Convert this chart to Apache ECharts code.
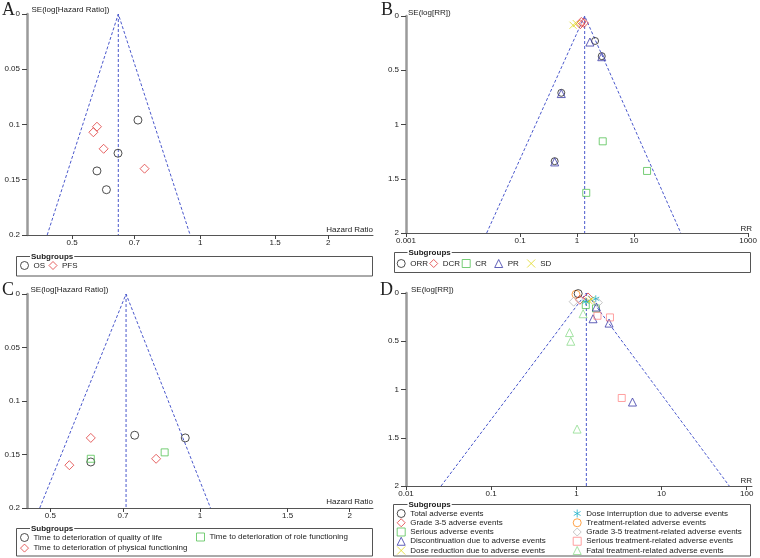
<!DOCTYPE html>
<html>
<head>
<meta charset="utf-8">
<script src="https://cdn.jsdelivr.net/npm/echarts@6/dist/echarts.min.js"></script>
<style>
html,body{margin:0;padding:0;background:#fff;}
#chart{width:760px;height:558px;}
</style>
</head>
<body>
<div id="chart"></div>
<script>
// ---------------- DATA ----------------
// Panel A : HR funnel (OS, PFS)
const aTicks = [0.5, 0.7, 1, 1.5, 2];
const aOS_HR = [0.714, 0.641, 0.572, 0.602];
const aOS_SE = [0.096, 0.126, 0.142, 0.159];
const aPFS_HR = [0.572, 0.561, 0.593, 0.740];
const aPFS_SE = [0.102, 0.107, 0.122, 0.140];
const aFunnel = [0.437, 0.642, 0.947];      // lower limit at max SE, pooled, upper limit
const aSEmax = 0.2;

// Panel B : RR funnel (response)
const bTicks = [0.001, 0.1, 1, 10, 1000];
const bORR_RR = [2.07, 2.71, 0.529, 0.405];
const bORR_SE = [0.23, 0.37, 0.708, 1.338];
const bDCR_RR = [1.19, 1.32, 1.14];
const bDCR_SE = [0.055, 0.064, 0.076];
const bCR_RR = [2.82, 16.9, 1.45];
const bCR_SE = [1.155, 1.428, 1.63];
const bPR_RR = [1.68, 2.71, 0.529, 0.405];
const bPR_SE = [0.24, 0.375, 0.715, 1.345];
const bSD_RR = [0.85, 0.97];
const bSD_SE = [0.085, 0.07];
const bFunnel = [0.026, 1.36, 66];
const bSEmax = 2;

// Panel C : HR funnel (quality of life)
const cTicks = [0.5, 0.7, 1, 1.5, 2];
const cQoL_HR = [0.739, 0.934, 0.603];
const cQoL_SE = [0.132, 0.1345, 0.157];
const cPhys_HR = [0.603, 0.546, 0.816];
const cPhys_SE = [0.1345, 0.160, 0.154];
const cRole_HR = [0.603, 0.849];
const cRole_SE = [0.154, 0.148];
const cFunnel = [0.476, 0.71, 1.05];
const cSEmax = 0.2;

// Panel D : RR funnel (adverse events)
const dTicks = [0.01, 0.1, 1, 10, 100];
const dTotal_RR = [1.05];
const dTotal_SE = [0.006];
const dG35_RR = [1.10, 1.37];
const dG35_SE = [0.07, 0.046];
const dSerious_RR = [1.29, 1.70];
const dSerious_SE = [0.125, 0.16];
const dDisc_RR = [1.57, 2.42, 4.56, 1.72];
const dDisc_SE = [0.267, 0.312, 1.13, 0.145];
const dRed_RR = [1.41, 1.51];
const dRed_SE = [0.08, 0.07];
const dInt_RR = [1.69, 1.29];
const dInt_SE = [0.06, 0.09];
const dTrae_RR = [0.99];
const dTrae_SE = [0.014];
const dG35T_RR = [0.93, 1.79];
const dG35T_SE = [0.09, 0.10];
const dSerT_RR = [1.77, 2.48, 3.41];
const dSerT_SE = [0.236, 0.253, 1.088];
const dFatal_RR = [1.20, 0.83, 0.86, 1.02];
const dFatal_SE = [0.215, 0.41, 0.50, 1.41];
const dFunnel = [0.0258, 1.31, 62.4];
const dSEmax = 2;

// ---------------- STYLE ----------------
const FONT = "'Liberation Sans', Arial, sans-serif";
const FS = 8;
const SERIF = "'Liberation Serif', 'Times New Roman', serif";
const C_BLACK = '#222222', C_RED = '#e03c3c', C_GREEN = '#55c255', C_BLUE = '#3a3aa8',
      C_YELLOW = '#e0d820', C_TEAL = '#20b0c8', C_ORANGE = '#ff8c1a', C_GRAY = '#b8b8b8',
      C_PINK = '#ff8a8a', C_LGREEN = '#8edc8e', C_FUNNEL = '#4a58cc';
const SYM_X = 'path://M0,0L10,10M10,0L0,10';
const SYM_AST = 'path://M5,0L5,10M0.7,2.5L9.3,7.5M0.7,7.5L9.3,2.5';

const L = Math.log10;
const eps = 1e-9;

function xAxisCfg(gi, min, max, ticks) {
  const cv = ticks.map(L);
  return {
    type: 'value', gridIndex: gi, min: min, max: max,
    axisLine: {onZero: false, lineStyle: {color: '#555', width: 1}},
    axisTick: {length: 4, customValues: cv, lineStyle: {color: '#444'}},
    axisLabel: {
      customValues: cv, margin: 4, fontSize: FS, color: '#222', fontFamily: FONT,
      formatter: function (v) {
        for (let i = 0; i < cv.length; i++) if (Math.abs(cv[i] - v) < 1e-6) return String(ticks[i]);
        return '';
      }
    },
    splitLine: {show: false}
  };
}
function yAxisCfg(gi, max, interval) {
  return {
    type: 'value', gridIndex: gi, inverse: true, min: 0, max: max, interval: interval,
    axisLine: {onZero: false, lineStyle: {color: '#9a9a9a', width: 2.5}},
    axisTick: {length: 5, lineStyle: {color: '#444'}},
    axisLabel: {margin: 7, fontSize: FS, color: '#222', fontFamily: FONT},
    splitLine: {show: false}
  };
}
function sc(name, xs, ys, gi, symbol, color, size) {
  return {
    type: 'scatter', name: name, xAxisIndex: gi, yAxisIndex: gi,
    data: xs.map((x, i) => [L(x), ys[i]]),
    symbol: symbol, symbolSize: size, z: 5,
    itemStyle: {color: 'rgba(0,0,0,0)', borderColor: color, borderWidth: 1},
    emphasis: {disabled: true}, silent: true
  };
}
function funnel(gi, f, seMax) {
  const ls = {color: C_FUNNEL, width: 1, type: [3, 2]};
  return [
    {type: 'line', xAxisIndex: gi, yAxisIndex: gi, symbol: 'none', silent: true, z: 2,
     data: [[L(f[0]), seMax], [L(f[1]), 0], [L(f[2]), seMax]], lineStyle: ls},
    {type: 'line', xAxisIndex: gi, yAxisIndex: gi, symbol: 'none', silent: true, z: 2,
     data: [[L(f[1]), 0], [L(f[1]), seMax]], lineStyle: ls}
  ];
}
function legendCfg(names, left, top, orient, opts) {
  return Object.assign({
    data: names, left: left, top: top, orient: orient, padding: 0, height: 70,
    itemWidth: 8, itemHeight: 8, itemGap: 0, selectedMode: false,
    itemStyle: {borderWidth: 1},
    textStyle: {fontSize: FS, color: '#222', fontFamily: FONT, lineHeight: 9}
  }, opts || {});
}
function boxGraphics(x, y, w, h, tx) {
  return [
    {type: 'rect', shape: {x: x, y: y, width: w, height: h}, silent: true,
     style: {fill: 'none', stroke: '#555', lineWidth: 1}},
    {type: 'text', x: tx, y: y, silent: true, z: 10,
     style: {text: 'Subgroups', font: 'bold ' + FS + 'px ' + FONT, fill: '#222',
             align: 'left', verticalAlign: 'middle', backgroundColor: '#fff', padding: [0, 1, 0, 1]}}
  ];
}
function txt(t, x, y, font, align) {
  return {type: 'text', x: x, y: y, silent: true, z: 10,
          style: {text: t, font: font, fill: '#222', align: align || 'left', verticalAlign: 'middle'}};
}

const aNames = ['OS', 'PFS'];
const bNames = ['ORR', 'DCR', 'CR', 'PR', 'SD'];
const cNames = ['Time to deterioration of quality of life', 'Time to deterioration of physical functioning',
                'Time to deterioration of role functioning'];
const dNames = ['Total adverse events', 'Grade 3-5 adverse events', 'Serious adverse events',
                'Discontinuation due to adverse events', 'Dose reduction due to adverse events',
                'Dose interruption due to adverse events', 'Treatment-related adverse events',
                'Grade 3-5 treatment-related adverse events', 'Serious treatment-related adverse events',
                'Fatal treatment-related adverse events'];

const series = [].concat(
  funnel(0, aFunnel, aSEmax), funnel(1, bFunnel, bSEmax), funnel(2, cFunnel, cSEmax), funnel(3, dFunnel, dSEmax),
  [
    sc(aNames[0], aOS_HR, aOS_SE, 0, 'circle', C_BLACK, 8),
    sc(aNames[1], aPFS_HR, aPFS_SE, 0, 'diamond', C_RED, 9),

    sc(bNames[0], bORR_RR, bORR_SE, 1, 'circle', C_BLACK, 7),
    sc(bNames[1], bDCR_RR, bDCR_SE, 1, 'diamond', C_RED, 9),
    sc(bNames[2], bCR_RR, bCR_SE, 1, 'rect', C_GREEN, 7),
    sc(bNames[3], bPR_RR, bPR_SE, 1, 'triangle', C_BLUE, 8),
    sc(bNames[4], bSD_RR, bSD_SE, 1, SYM_X, C_YELLOW, 7),

    sc(cNames[0], cQoL_HR, cQoL_SE, 2, 'circle', C_BLACK, 8),
    sc(cNames[1], cPhys_HR, cPhys_SE, 2, 'diamond', C_RED, 9),
    sc(cNames[2], cRole_HR, cRole_SE, 2, 'rect', C_GREEN, 7),

    sc(dNames[6], dTrae_RR, dTrae_SE, 3, 'circle', C_ORANGE, 8),
    sc(dNames[0], dTotal_RR, dTotal_SE, 3, 'circle', C_BLACK, 8),
    sc(dNames[1], dG35_RR, dG35_SE, 3, 'diamond', C_RED, 9),
    sc(dNames[2], dSerious_RR, dSerious_SE, 3, 'rect', C_GREEN, 7),
    sc(dNames[3], dDisc_RR, dDisc_SE, 3, 'triangle', C_BLUE, 8),
    sc(dNames[4], dRed_RR, dRed_SE, 3, SYM_X, C_YELLOW, 7),
    sc(dNames[5], dInt_RR, dInt_SE, 3, SYM_AST, C_TEAL, 7),
    sc(dNames[7], dG35T_RR, dG35T_SE, 3, 'diamond', C_GRAY, 9),
    sc(dNames[8], dSerT_RR, dSerT_SE, 3, 'rect', C_PINK, 7),
    sc(dNames[9], dFatal_RR, dFatal_SE, 3, 'triangle', C_LGREEN, 8)
  ]
);

const option = {
  animation: false,
  backgroundColor: '#fff',
  grid: [
    {left: 27, top: 14, width: 346, height: 221},
    {left: 406, top: 16, width: 346, height: 217},
    {left: 27, top: 294, width: 346, height: 214},
    {left: 406, top: 293, width: 346, height: 193}
  ],
  xAxis: [
    xAxisCfg(0, -0.407, 0.406, aTicks),
    xAxisCfg(1, -3 - eps, 3 + eps, bTicks),
    xAxisCfg(2, -0.348, 0.348, cTicks),
    xAxisCfg(3, -2 - eps, 2.062, dTicks)
  ],
  yAxis: [
    yAxisCfg(0, 0.2, 0.05), yAxisCfg(1, 2, 0.5), yAxisCfg(2, 0.2, 0.05), yAxisCfg(3, 2, 0.5)
  ],
  legend: [
    legendCfg(aNames, 20, 261, 'horizontal', {textStyle: {fontSize: FS, color: '#222', fontFamily: FONT, width: 15, lineHeight: 9}}),
    legendCfg(bNames, 396.7, 259, 'horizontal', {textStyle: {fontSize: FS, color: '#222', fontFamily: FONT, width: 19, lineHeight: 9}}),
    legendCfg([cNames[0], cNames[1]], 20, 533, 'vertical', {itemGap: 1.6}),
    legendCfg([cNames[2]], 196, 532.5, 'vertical'),
    legendCfg(dNames.slice(0, 5), 396.7, 509, 'vertical', {itemGap: 0.25}),
    legendCfg(dNames.slice(5), 572.7, 509, 'vertical', {itemGap: 0.25})
  ],
  graphic: [].concat(
    boxGraphics(16.5, 256.5, 356, 19.5, 30),
    boxGraphics(394.5, 252.5, 356, 20, 407.5),
    boxGraphics(16.5, 528.5, 356, 27.5, 30),
    boxGraphics(393.5, 504.5, 357, 51.5, 407.5),
    [
      txt('A', 2, 10, '18px ' + SERIF),
      txt('B', 381, 10, '18px ' + SERIF),
      txt('C', 2, 290, '18px ' + SERIF),
      txt('D', 380, 290, '18px ' + SERIF),
      txt('SE(log[Hazard Ratio])', 31.5, 10, FS + 'px ' + FONT),
      txt('SE(log[RR])', 408, 13, FS + 'px ' + FONT),
      txt('SE(log[Hazard Ratio])', 30.5, 290, FS + 'px ' + FONT),
      txt('SE(log[RR])', 411, 290, FS + 'px ' + FONT),
      txt('Hazard Ratio', 373, 230, FS + 'px ' + FONT, 'right'),
      txt('RR', 752, 228.5, FS + 'px ' + FONT, 'right'),
      txt('Hazard Ratio', 373, 502, FS + 'px ' + FONT, 'right'),
      txt('RR', 752, 480.5, FS + 'px ' + FONT, 'right')
    ]
  ),
  series: series
};

const chart = echarts.init(document.getElementById('chart'), null, {renderer: 'canvas'});
chart.setOption(option);
</script>
</body>
</html>
